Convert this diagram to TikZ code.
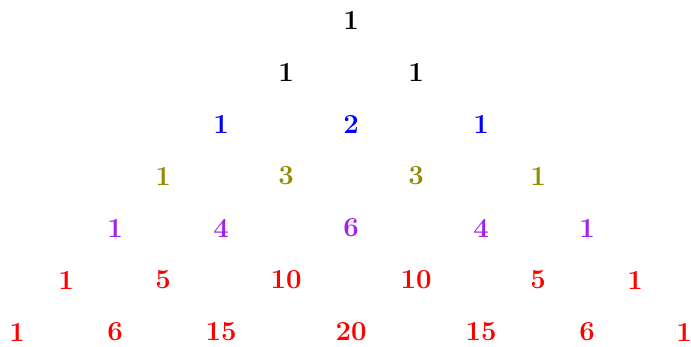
\documentclass[tikz,border=0pt]{standalone}
\definecolor{rowolive}{RGB}{145,140,0}
\definecolor{rowpurple}{RGB}{160,32,240}
\tikzset{num/.style={font=\fontsize{27.5}{33}\selectfont\bfseries,inner sep=0pt}}
\begin{document}
\begin{tikzpicture}[x=1pt,y=-1pt]
\useasboundingbox(0,0)rectangle(691,347);
\foreach\x/\v[count=\i]in{351/1}{\node[num](a0\i)at(\x,20){\v};}
\foreach\x/\v[count=\i]in{286/1,416/1}{\node[num](a1\i)at(\x,72){\v};}
\foreach\x/\v[count=\i]in{221/1,351/2,481/1}{\node[num,blue](a2\i)at(\x,124){\v};}
\foreach\x/\v[count=\i]in{163/1,286/3,416/3,538/1}{\node[num,rowolive](a3\i)at(\x,176){\v};}
\foreach\x/\v[count=\i]in{115/1,221/4,351/6,481/4,587/1}{\node[num,rowpurple](a4\i)at(\x,228){\v};}
\foreach\x/\v[count=\i]in{66/1,163/5,286/10,416/10,538/5,635/1}{\node[num,red](a5\i)at(\x,280){\v};}
\foreach\x/\v[count=\i]in{17/1,115/6,221/15,351/20,481/15,587/6,684/1}{\node[num,red](a6\i)at(\x,332){\v};}
\end{tikzpicture}
\end{document}
